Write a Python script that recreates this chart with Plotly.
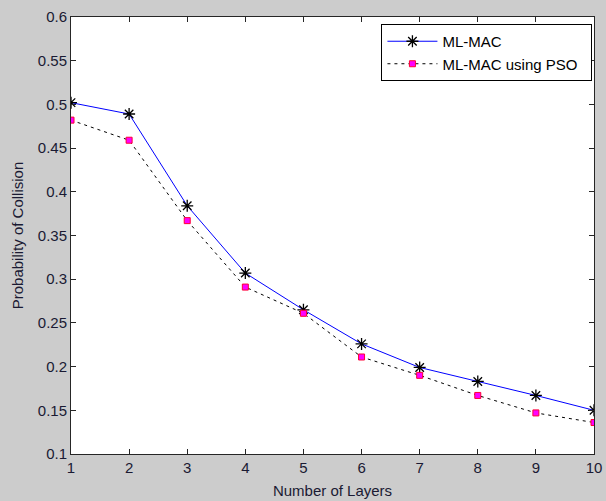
#%% Data ----------------------------------------------------------------------

import plotly.graph_objects as go

layers = [1, 2, 3, 4, 5, 6, 7, 8, 9, 10]
ml_mac = [0.502, 0.489, 0.384, 0.307, 0.265, 0.226, 0.199, 0.183, 0.167, 0.150]
ml_mac_pso = [0.482, 0.459, 0.367, 0.291, 0.261, 0.211, 0.190, 0.167, 0.147, 0.136]

y_ticks = [0.1, 0.15, 0.2, 0.25, 0.3, 0.35, 0.4, 0.45, 0.5, 0.55, 0.6]
y_labels = ['0.1', '0.15', '0.2', '0.25', '0.3', '0.35', '0.4', '0.45', '0.5', '0.55', '0.6']

#%% Plot ----------------------------------------------------------------------

fig = go.Figure()

fig.add_trace(go.Scatter(
    x=layers, y=ml_mac, name='ML-MAC', mode='lines+markers',
    line=dict(color='#0000ff', width=1),
    marker=dict(symbol='asterisk-open', size=10, color='black',
                line=dict(color='black', width=1.3))
))

fig.add_trace(go.Scatter(
    x=layers, y=ml_mac_pso, name='ML-MAC using PSO\u00a0\u00a0', mode='lines+markers',
    line=dict(color='black', width=1, dash='3px,4px'),
    marker=dict(symbol='square', size=6, color='#ff00ff',
                line=dict(color='#ff0033', width=1))
))

axis_style = dict(
    showline=True, linecolor='#262626', linewidth=1, mirror='ticks',
    ticks='inside', ticklen=5, tickcolor='#262626', showgrid=False,
    zeroline=False, tickfont=dict(size=15, color='#1a1a33'),
    ticklabeloverflow='allow',
)

fig.update_xaxes(range=[1, 10], tickvals=layers, title_text='Number of Layers',
                 title_font=dict(size=15, color='#1a1a33'), title_standoff=10,
                 **axis_style)
fig.update_yaxes(range=[0.1, 0.6], tickvals=y_ticks, ticktext=y_labels,
                 title_text='Probability of Collision',
                 title_font=dict(size=15, color='#1a1a33'), title_standoff=10,
                 **axis_style)

fig.update_layout(
    width=606, height=501,
    margin=dict(l=71, r=4, t=17, b=45),
    paper_bgcolor='#cccccc', plot_bgcolor='white',
    font=dict(family='Liberation Sans, Arial, sans-serif'),
    legend=dict(x=0.997, y=0.984, xanchor='right', yanchor='top',
                bgcolor='white', bordercolor='black', borderwidth=1,
                font=dict(size=15, color='black'), itemwidth=50,
                tracegroupgap=0),
    showlegend=True,
)

# page margin off so the figure sits at the window corner
fig.write_html("out.html", config={'displayModeBar': False},
               post_script="document.body.style.margin='0';")
